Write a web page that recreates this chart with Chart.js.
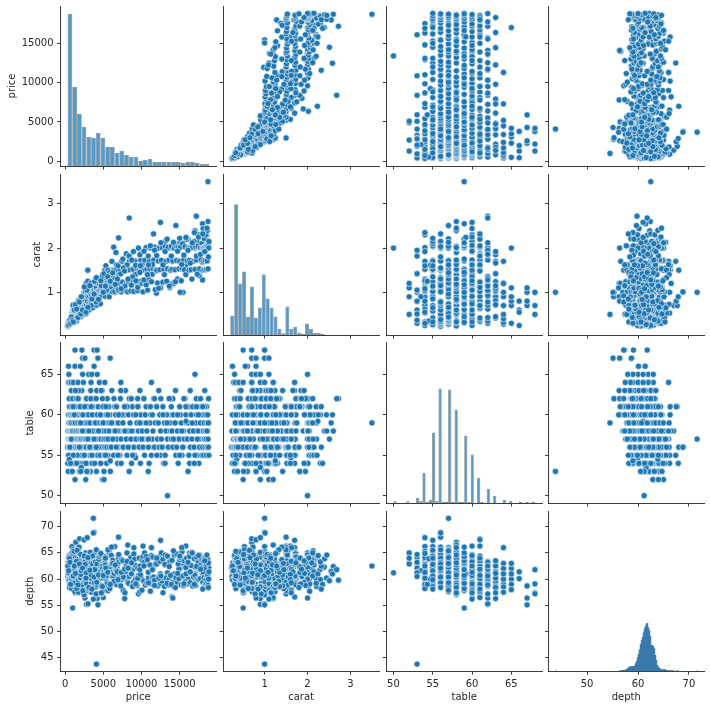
<!DOCTYPE html>
<html><head><meta charset="utf-8">
<style>html,body{margin:0;padding:0;background:#fff;width:710px;height:709px;overflow:hidden}canvas{position:absolute;display:block}</style>
<script src="https://cdn.jsdelivr.net/npm/chart.js@4"></script></head><body>
<script>
const variables = ['price','carat','table','depth'];
const priceTicks = [0,5000,10000,15000];
const caratTicks = [1,2,3];
const tableTicks = [50,55,60,65];
const depthXTicks = [50,60,70];
const depthYTicks = [45,50,55,60,65,70];

const price = [
18700,4100,3700,13400,17170,18700,17980,18060,18530,17000,14500,12470,11570,8400,7000,6360,8010,6660,17980,17550,
17680,15430,15050,13860,2970,2970,18600,17980,11950,18200,18800,18400,17300,16700,16100,15500,14900,14300,13700,13100,
7000,12500,3800,3700,1000,2800,3000,7800,9600,14000,14100,5000,4200,3700,1400,900,1900,2500,2900,8200,
10200,15800,16300,6500,9000,1300,2200,3800,4200,2300,2600,4300,5900,450,1300,2000,3800,500,2300,3100,
3500,4200,17000,1300,2700,4900,5100,430,600,800,1100,1700,2400,3400,4500,5200,7300,11300,1900,3300,
340,380,405,432,450,468,490,505,520,540,552,565,580,595,610,625,640,655,670,690,
700,715,730,745,760,775,790,805,820,835,850,865,880,900,915,930,950,965,980,1000,
1020,1050,1075,1100,1130,1160,1190,1220,1250,1280,1310,1340,1370,1400,1430,1460,1490,1520,1550,1580,
1610,1640,1670,1700,1730,1760,1790,1820,1850,1880,1910,1940,1970,2000,2030,2060,2090,2120,2150,2180,
2210,2250,2290,2330,2370,2410,2450,2490,2530,2570,2610,2650,2690,2730,2770,2810,2850,2890,2930,2970,
3010,3060,3110,3160,3210,3260,3310,3360,3410,3460,3510,3560,3610,3660,3710,3760,3810,3860,3910,3960,
4010,4060,4110,4160,4210,4260,4310,4360,4410,4460,4510,4560,4610,4660,4710,4760,4810,4860,4910,4960,
5020,5070,5120,5170,5220,5270,5320,5370,5420,5470,5520,5570,5620,5670,5720,5770,5820,5870,5920,5980,
6050,6150,6240,6330,6420,6510,6600,6700,6790,6880,6970,7060,7150,7240,7330,7420,7520,7610,7720,7900,
8000,8100,8200,8300,8400,8500,8600,8700,8800,8900,9000,9100,9200,9300,9400,9500,9600,9700,9800,9900,
10000,10100,10200,10300,10400,10500,10600,10700,10800,10900,11000,11100,11200,11300,11400,11500,11600,11700,11800,11900,
12000,12100,12200,12300,12400,12500,12600,12700,12800,12900,13000,13100,13200,13300,13400,13500,13600,13700,13800,13900,
14000,14100,14200,14300,14400,14500,14600,14700,14800,14900,15000,15100,15200,15300,15400,15500,15600,15700,15800,15900,
16000,16100,16200,16300,16400,16500,16600,16700,16800,16900,17000,17100,17200,17300,17400,17500,17600,17700,17800,17900,
18000,18040,18090,18130,18180,18220,18270,18310,18360,18400,18450,18490,18540,18580,18630,18670,18710,18750,18780,18820,
1050,1480,1760,2040,2330,2620,2840,3120,3380,3590,3880,4140,4390,4620,4880,5090,5340,5610,5840,6120,
6400,6730,7010,7290,7560,7830,8110,8390,8670,8950,9230,9510,9790,10060,10330,10610,10880,11160,11430,11710,
11990,12260,12530,12810,13080,13350,13630,13900,14180,14450,14730,15000,15270,15550,15820,16090,16370,16640,16910,17190,
17460,17730,18010,18280,18560,18750,1180,1580,2120,2760,3420,4060,4740,5410,6080,6850,7620,8830,9860,10770,
360,420,480,560,630,720,820,940,1070,1210,1360,1520,1690,1870,2060,2280,2510,2730,2990,3240,
3510,3790,4090,4380,4680,4990,5280,5590,5910,6240,6560,6920,7340,7780,8240,8720,9260,9780,10310,10920];

const carat = [
3.5,1.0,1.0,2.0,2.72,2.6,2.55,2.44,2.29,2.39,2.51,2.58,2.32,2.68,2.23,2.02,1.87,1.9,1.28,1.38,
1.52,1.0,1.0,1.19,1.5,1.24,1.71,1.68,.98,2.0,2.02,2.06,2.14,2.01,2.2,2.03,2.1,2.07,2.0,2.15,
1.5,1.7,1.0,1.01,.5,.9,1.0,1.2,1.5,1.7,2.0,1.2,.9,1.1,.7,.53,.7,.8,.9,1.2,
1.5,1.6,2.0,1.0,1.5,.5,.7,1.0,1.0,.7,.8,1.0,1.1,.25,.6,.55,.8,.3,.7,.8,
.9,1.1,2.0,.5,.9,1.1,1.2,.28,.32,.4,.5,.7,.7,.9,1.0,1.2,1.2,1.7,.6,.8,
.23,.24,.26,.28,.25,.3,.31,.27,.32,.3,.33,.31,.34,.3,.35,.33,.32,.36,.31,.35,
.38,.33,.4,.36,.31,.41,.39,.34,.42,.37,.33,.4,.45,.38,.36,.41,.5,.33,.43,.4,
.5,.41,.53,.62,.51,.32,.55,.43,.58,.71,.42,.56,.61,.5,.7,.45,.57,.71,.52,.42,
.6,.53,.72,.55,.7,.51,.62,.73,.53,.71,.58,.8,.7,.61,.75,.57,.71,.8,.62,.9,
.7,.53,.72,.9,.61,.75,.8,1.0,.7,.63,.9,1.01,.73,.82,1.2,.71,.91,1.02,.8,1.25,
.9,.7,1.0,.75,.91,1.01,.71,1.1,.8,.92,1.02,1.2,.72,.9,1.03,.81,1.04,1.12,.93,.74,
.9,1.01,1.1,.8,1.02,1.2,.91,1.03,.81,1.21,1.04,1.3,.9,1.05,1.11,1.22,.92,1.01,1.4,1.06,
1.01,1.2,1.02,1.1,1.5,.91,1.21,1.03,1.12,1.3,1.04,1.22,1.51,1.01,1.13,.9,1.23,1.41,1.05,1.02,
1.1,1.2,1.01,1.5,1.21,1.02,1.31,1.51,1.11,1.22,1.03,1.4,1.52,1.2,1.01,1.7,1.23,1.12,1.53,1.04,
1.2,1.5,1.01,1.21,1.7,1.51,1.03,1.3,1.22,1.52,1.02,1.71,1.4,1.23,1.53,1.04,2.0,1.5,1.24,1.72,
1.5,1.2,1.01,1.51,1.72,1.22,2.01,1.52,1.05,1.3,1.7,1.53,2.0,1.24,1.41,1.54,1.73,2.02,1.06,1.5,
1.5,1.21,1.71,2.0,1.51,1.1,1.72,2.01,1.23,1.52,1.4,2.03,1.7,1.25,1.53,2.02,1.73,1.11,1.5,2.04,
1.52,1.71,1.2,2.0,1.51,2.05,1.72,1.3,2.01,1.53,1.7,2.02,1.26,1.54,2.1,1.73,1.51,2.03,1.4,2.2,
1.71,2.0,1.5,1.72,2.01,1.51,1.3,2.02,1.7,2.15,1.52,2.03,1.73,1.41,2.04,2.3,1.53,2.01,1.74,2.1,
2.0,1.5,2.01,1.7,2.02,2.21,1.51,2.03,1.72,2.3,2.04,1.52,2.05,1.71,2.4,2.06,1.53,2.1,2.0,2.15,
.71,.35,.81,.45,.5,.58,1.05,.6,1.21,.65,1.25,.71,1.31,.74,1.36,1.42,1.6,1.5,1.45,1.7,
1.33,1.62,1.06,1.42,1.75,1.14,1.62,1.82,1.16,1.92,1.61,1.11,1.85,1.62,1.93,1.17,1.82,2.05,1.63,1.95,
1.83,1.09,2.12,1.62,1.92,2.2,1.14,1.82,2.13,1.24,1.93,2.22,1.63,1.84,2.24,1.95,1.66,2.12,2.35,1.82,
2.25,1.86,2.32,1.92,2.45,1.8,.33,.65,.9,.52,.7,.78,1.15,1.05,1.4,1.3,1.55,1.35,1.6,1.4,
.25,.3,.27,.35,.38,.3,.44,.37,.33,.6,.72,.62,.43,.78,.51,.6,1.12,.55,.66,1.15,
.85,.96,1.33,.84,1.26,1.0,1.14,1.35,1.25,1.44,1.18,1.6,1.08,1.48,1.3,1.73,1.26,1.45,1.28,1.62];

const table = [
59,53,57,50,62,58,59,60,61,58,57,60,56,62,60,59,61,58,56,57,
58,57,55,60,56,61,57,58,59,60,59,60,55,58,61,56,57,59,58,60,
56,55,56,56,59,62,62,60,61,60,62,61,63,60,58,54,61,61,54,58,
60,61,54,55,57,68,68,68,68,67,67,67,67,66,66,66,66,65,65,65,
65,65,65,52,52,52,52,64,64,64,64,64,64,64,64,64,64,64,53,53,
56,58,55,57,60,54,59,56,57,62,58,55,61,56,57,59,58,60,55,57,
57,56,59,58,54,55,60,56,63,57,58,59,56,61,55,57,58,60,56,62,
58,55,57,56,60,59,54,57,56,58,61,55,59,56,57,63,58,60,57,55,
56,57,59,58,55,60,62,56,57,54,58,59,61,57,56,55,58,60,57,63,
55,58,56,60,57,59,54,58,56,61,57,55,59,58,56,62,60,57,53,59,
57,60,58,56,55,59,57,63,56,58,54,60,61,57,55,58,56,59,62,57,
59,56,57,58,60,55,61,56,58,57,54,59,55,60,57,56,58,63,59,61,
58,57,55,59,56,60,57,58,54,56,62,55,59,57,61,58,56,60,53,57,
56,59,57,55,58,61,60,56,57,54,59,58,55,62,57,60,56,59,58,63,
57,55,58,60,56,59,57,54,61,58,56,55,60,57,59,62,58,56,57,60,
59,58,56,57,55,60,61,58,57,56,54,59,60,55,57,58,62,56,59,61,
55,57,59,56,60,58,57,56,61,54,59,55,58,60,57,56,62,59,58,57,
58,56,60,57,59,55,56,58,54,57,61,60,59,55,56,58,57,62,60,59,
57,59,55,58,56,60,57,61,58,56,55,59,60,57,58,54,56,59,61,55,
56,60,58,55,59,57,61,56,58,60,57,55,59,56,58,60,57,59,62,55,
61,62,63,59,60,55,53,58,62,61,54,63,56,60,62,53,61,57,59,63,
62,61,60,63,59,58,61,53,62,60,54.7,61,63,57,62,59,53,61,60,62,
61,63,62,60,54,59,62,61,57,63,60,55,58,62,59.2,53,63,59,54,61,
60,62,61,63,58,56,54,55,53.5,57,61,62,63,60,59,58,56,55,54,57,
54,53,55,54.5,56,54,57,53,55,60,63,54,62,56,53,58,55,54,57,56,
55,57,56,58,54,59,55,60,54.3,57,58,55,54,61,56,58,60,59,62,57];

const depth = [
62.5,43.8,71.6,61.2,59.8,62.4,61.5,60.2,61.8,62.3,59.7,61,62.5,61.8,60.7,62.8,60.5,61.5,63,62,
61.8,63,62,60.5,64,60.2,62.5,60.8,63.2,59.8,62.2,61.4,63.3,60.7,60,63.5,62,61,60.6,62.7,
68,67.4,68.9,68.8,54.5,55.2,55.3,56.3,57.2,56.6,56.4,56.5,56.3,56.2,67,66.2,67.7,67.5,67.9,66.5,
66.3,66.3,65,66.2,66,57.4,59.1,61.8,57.2,58.7,56.4,55.1,58.7,61.4,60.1,60.1,61.4,60,62,59,
58,63,61,63,65,62.9,64,60,59,62,58.5,61,63,57.5,60,62,61,66,63.9,62.7,
62.3,60.5,63.1,61.8,59.9,64.2,61.2,61.7,63.5,60.3,62.8,60.2,58.4,64.6,59.8,62.4,60.9,63.7,61.6,62.6,
60.8,63.3,59.4,62.4,61.5,64.7,61.9,59.6,62.1,64.9,58.2,63.6,61.3,60.4,62.9,58.9,64.5,59.2,65.2,61.2,
61.2,59.2,65.6,60.7,62.3,60.1,63.4,62.7,62,57.6,62.8,61,64.2,60.2,61.1,60,63.3,60.9,59.1,62.4,
64,58.1,62.6,59.8,65.4,57.5,63,66.1,63.9,58.7,64.8,58.4,60.2,60.3,62.6,61.8,62.2,64.4,61.5,58.3,
58.9,61.7,60.9,62.6,64.3,63.2,60.6,57,62.1,59.5,61.2,63.4,59.7,60.4,64.4,59.1,61,57.9,62.2,61.3,
60.4,58.2,63.7,60.8,61.4,62,65.1,61.6,63,59.2,62.3,61,62.9,58.6,60,61.9,59.3,64.7,60.6,63.3,
58.5,61.9,60,62.9,59.6,58.9,64.2,60.9,63.8,64.3,60.1,60.7,65,61.5,62.4,58.8,57.2,62.5,62,60.2,
61.4,57.9,64.3,61.7,63,62.7,60.1,58.6,61.6,59.4,59.1,62.2,57.8,65.2,58.6,65.1,62.3,58.3,60.7,61.3,
64.5,60.5,63.6,60.6,61.1,62.4,61.7,59,62.2,62.9,64,63.3,59.5,60.3,59.9,63.7,61,57.9,60.2,61.4,
62.8,65,59.5,59.2,60.5,63.1,64.1,61,58.8,61.9,64.8,63.8,62.6,60.1,58.8,62.1,60.7,64,57.6,60.4,
60.1,63.6,64.3,59.6,65,58.9,62.9,59.3,63.9,60.2,64.1,62.7,59.1,64.5,60.3,64.2,60.4,59.8,62.8,58.8,
62.9,58.7,64.2,60.5,63.4,59.2,65,59.6,63.8,60.3,58.6,64.6,60.2,62.9,64.4,58.9,60,63.3,60.7,59.3,
63.6,59.4,58.6,64.6,59.6,60.3,64.8,59.3,62.9,60.1,63.7,64.1,58.9,65.2,60.6,58.8,63.5,59.5,62.2,64,
59.1,63.2,61.2,64.3,59.3,62.6,65.1,58.7,60.4,63.9,60.7,58.8,64.2,60,63.1,59.9,64.6,60.1,62.8,63.7,
62.2,59.4,61.2,63.4,60.3,58.6,62.1,64,58.9,63.3,60,62.9,59.1,60.6,63.9,60.8,58.8,63.1,60,61.4,
59.3,63.4,61.2,60.9,57.8,62.8,64.2,58.4,60.2,64.4,61.8,59.4,60.6,64.6,58.6,60.8,62.1,65.6,58.2,62.9,
59.6,61.6,64.7,58.7,63.5,57.4,63.4,62.1,61,59.4,60,60.1,62.5,57.9,63.2,64.3,61.3,57.7,61.8,58.8,
64,60.2,60.6,57.4,62.8,59.2,62.4,59,65.4,58.4,61.1,64.4,66,59.1,61,63.2,61.4,65,59,62.4,
64.5,61.9,58.1,63.5,64.6,58.4,65.3,65.5,61.6,61.2,60.7,57.2,57.4,60.7,66.1,61.4,60.4,58.6,60.9,63.7,
62.5,61.2,61.6,63.9,63.2,59,60.2,60.5,60.6,62.5,61.1,58.2,58.9,62.9,64.7,62.1,64.4,60.2,64.1,61.7,
58.1,60.4,65.6,60.8,64.9,60.7,64,61.3,59,63,62.7,59.9,61.3,61.9,62.1,63.1,59.1,61.8,62.5,59.3];

// Histogram bar heights, one list per variable.
const priceHistStart = 326, priceHistStep = 616.6;
const priceHist = [456,237,156,118,87,84,99,84,57,57,39,46,33,28,28,15,19,22,12,12,12,12,12,12,9,12,12,9,6,6];
const caratHistStart = 0.2, caratHistStep = 0.0917;
const caratHist = [58,391,154,190,55,145,52,82,181,109,82,55,19,5,85,19,25,7,4,34,19,7,7,3,1,1,1,1,1,1,1,1,1,1,1,1];
const tableHistStart = 50, tableHistStep = 0.409;
const tableHist = [5,0,0,0,5,0,0,16,6,91,3,10,211,6,343,4,4,340,4,280,3,3,202,3,145,0,76,3,0,43,0,22,0,0,10,0,7,0,0,4,0,4,0,4];
const depthHistStart = 43.82, depthHistStep = 0.195;
const depthHist = [1,0,0,0,0,0,0,0,0,0,0,0,0,0,0,0,0,0,0,0,0,0,0,0,0,0,0,0,0,0,0,0,0,0,0,0,0,0,0,0,0,0,0,0,0,0,0,0,0,0,0,0,0,0,0,0,0,0,0,0,0,0,0,0,
2,2,2,3,3,3,4,6,9,11,13,14,14,15,15,16,23,30,41,52,65,80,92,102,115,127,135,142,144,130,122,105,78,78,74,68,48,33,18,13,9,7,5,4,5,6,4,3,3,2,2,2,2,1,1,1,0,0,3,0,0,0,0,0,0,0,0,0,0,0,0,0,0,0,0,0,0,0,1];

const ranges = {price:[-599,19748], carat:[0.035,3.665], table:[49.1,68.9], depth:[42.45,72.95]};
const columnLeft = [60.5,223.2,386.4,548.6];
const rowTop = [6,174.4,342.8,511.2];
const panelW = 155, panelH = 160;
const ylabelOffset = {price:6,carat:31,table:24,depth:24};
const hists = {
  price:[priceHistStart,priceHistStep,priceHist,true],
  carat:[caratHistStart,caratHistStep,caratHist,true],
  table:[tableHistStart,tableHistStep,tableHist,true],
  depth:[depthHistStart,depthHistStep,depthHist,false]};
const columns = {price,carat,table,depth};
const DARK = '#262626', BLUE = '#1f77b4';
const FONT = {family:'"DejaVu Sans"', size:10};

function axis(v, isX, showLabel){
  const t = v==='price'?priceTicks : v==='carat'?caratTicks : v==='table'?tableTicks : (isX?depthXTicks:depthYTicks);
  const opts = {
    type:'linear', position:isX?'bottom':'left', min:ranges[v][0], max:ranges[v][1], offset:false,
    border:{display:true,color:DARK,width:0.9},
    grid:{drawOnChartArea:false,drawTicks:true,tickLength:3.5,tickWidth:0.9,tickColor:DARK,offset:false},
    ticks:{autoSkip:false,maxRotation:0,minRotation:0,padding:3.5,color:DARK,font:FONT,
      callback:(val)=>showLabel?String(val):''},
    afterBuildTicks(s){ s.ticks = t.map(value=>({value})); }
  };
  if(showLabel) opts.title = {display:true,text:v,color:DARK,font:FONT,
      padding:isX?{top:0,bottom:6}:{top:ylabelOffset[v],bottom:0}};
  return opts;
}

variables.forEach((yv,r)=>variables.forEach((xv,c)=>{
  const left = c===0?0:Math.floor(columnLeft[c])-10;
  const top = Math.floor(rowTop[r])-6;
  const mL = columnLeft[c]-left, mT = rowTop[r]-top;
  const mB = r===3?709-(rowTop[3]+panelH):6, mR = 6;
  const W = Math.ceil(mL+panelW+mR), H = Math.ceil(mT+panelH+mB);
  const cv = document.createElement('canvas');
  cv.style.left=left+'px'; cv.style.top=top+'px'; cv.style.width=W+'px'; cv.style.height=H+'px';
  cv.width=W; cv.height=H; document.body.appendChild(cv);
  const xs = axis(xv,true,r===3), ys = axis(yv,false,c===0);
  xs.afterFit = s=>{ s.height=mB; s.paddingLeft=0; s.paddingRight=0; };
  ys.afterFit = s=>{ s.width=mL; s.paddingTop=0; s.paddingBottom=0; };
  const scales = {x:xs,y:ys};
  let datasets, type;
  if(r===c){
    const [start,step,counts,edged] = hists[xv];
    type='bar';
    const bins = counts.map((n,i)=>({x:start+step*(i+0.5),y:n}));
    scales.yh = {type:'linear',display:false,min:0,max:480,position:'right'};
    datasets=[{type:'bar',data:bins,yAxisID:'yh',xAxisID:'x',barPercentage:1,categoryPercentage:1,
      backgroundColor:edged?'rgba(31,119,180,0.75)':'rgba(40,110,165,0.85)',
      borderColor:edged?'rgba(30,40,50,0.55)':'rgba(0,0,0,0)',borderWidth:edged?0.7:0,borderSkipped:false,inflateAmount:edged?0:0.3}];
  } else {
    type='scatter';
    const pts = columns[xv].map((x,i)=>({x,y:columns[yv][i]}));
    datasets=[{type:'scatter',data:pts,xAxisID:'x',yAxisID:'y',clip:false,pointRadius:3.1,pointHoverRadius:3.1,
      backgroundColor:BLUE,borderColor:'rgba(255,255,255,0.85)',borderWidth:0.7,showLine:false}];
  }
  new Chart(cv,{type,data:{datasets},options:{
    responsive:false,animation:false,devicePixelRatio:1,
    layout:{padding:{left:0,top:mT,right:mR,bottom:0}},
    parsing:r===c?{xAxisKey:'x',yAxisKey:'y'}:false,
    plugins:{legend:{display:false},tooltip:{enabled:false},title:{display:false}},
    scales}});
}));
</script></body></html>
